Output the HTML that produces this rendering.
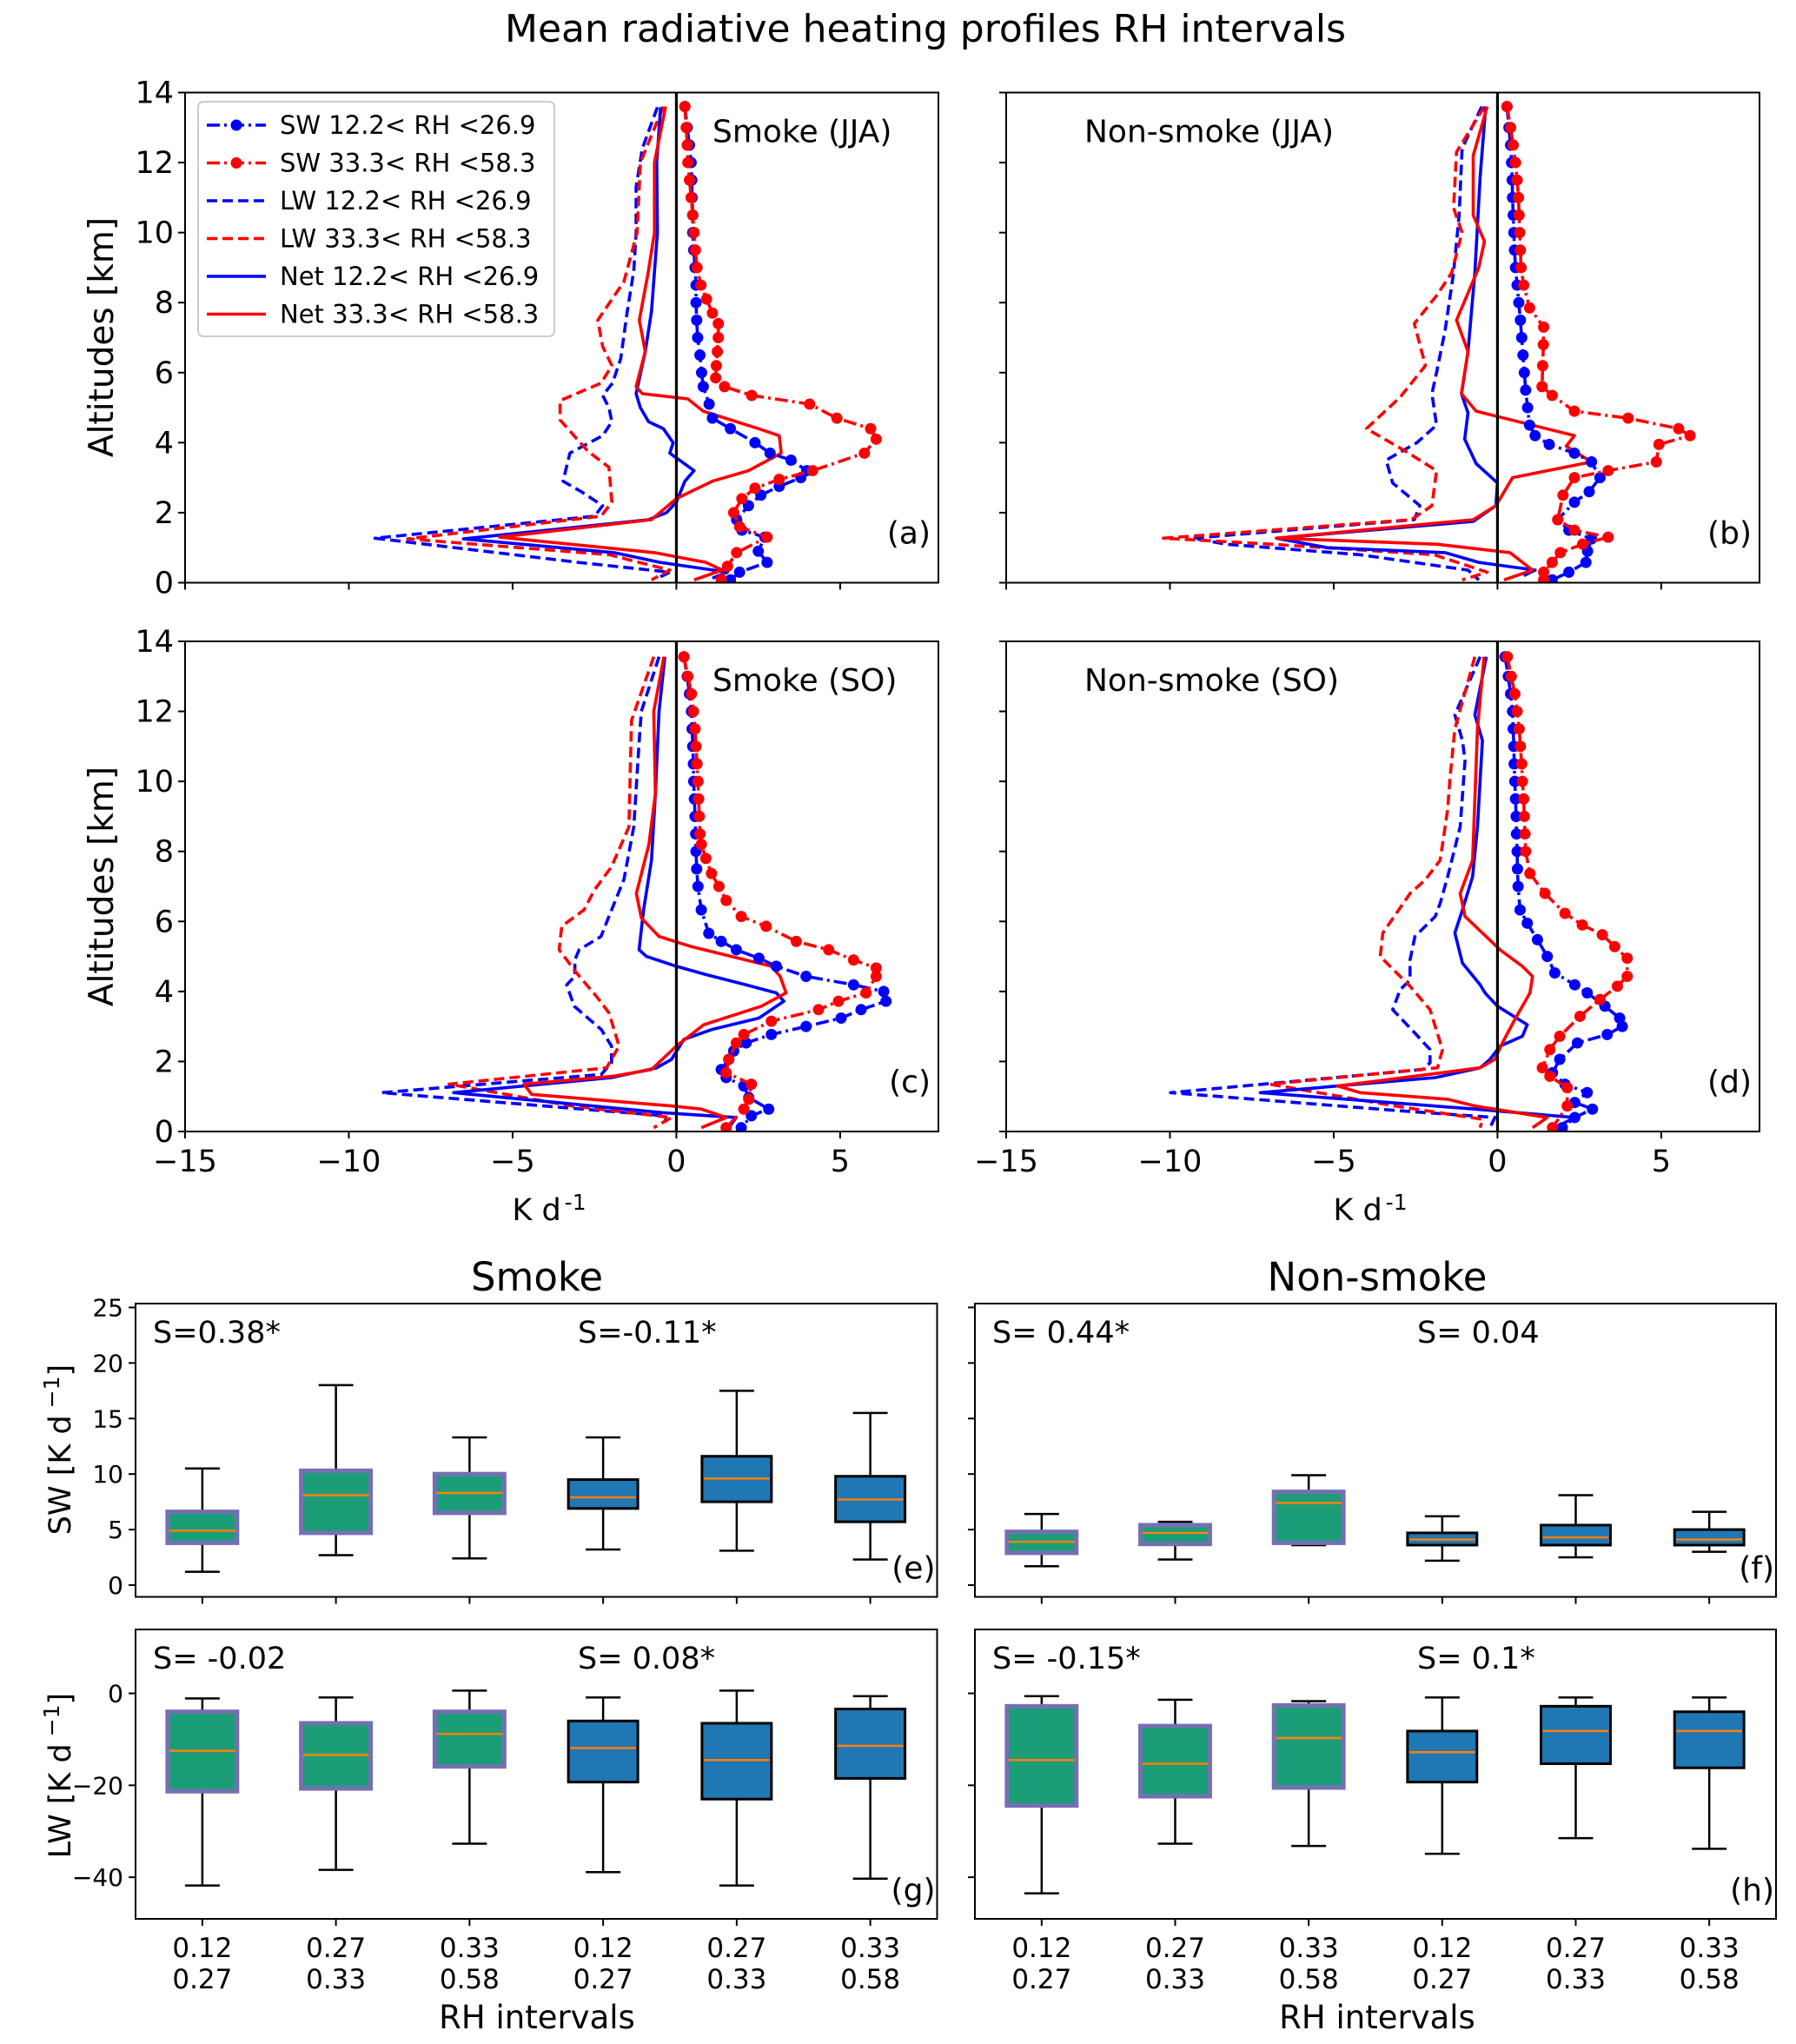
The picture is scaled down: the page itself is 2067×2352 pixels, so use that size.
<!DOCTYPE html>
<html><head><meta charset="utf-8"><title>Mean radiative heating profiles RH intervals</title>
<style>
html,body{margin:0;padding:0;background:#fff;}
svg{display:block;font-family:"DejaVu Sans","Liberation Sans",sans-serif;}
</style></head>
<body>
<svg id="fig" xmlns="http://www.w3.org/2000/svg" width="2067" height="2352" viewBox="0 0 2067 2352">
<rect x="0" y="0" width="2067" height="2352" fill="#fff"/>
<text x="1065" y="48" font-size="44" text-anchor="middle">Mean radiative heating profiles RH intervals</text>
</svg>
<script>
// ---------- Profile data (altitude km, heating K/d) ----------
// Panel a: Smoke (JJA)
const aSW12z=[13.6,13,12.5,12,11.5,11,10.5,10,9.5,9,8.5,8,7.5,7,6.5,6,5.6,5.1,4.7,4.4,4.0,3.7,3.5,3.2,3.0,2.75,2.5,2.2,1.8,1.5,1.3,0.9,0.58,0.3,0.08];
const aSW12x=[0.26,0.33,0.4,0.45,0.47,0.48,0.5,0.5,0.53,0.57,0.6,0.6,0.62,0.65,0.72,0.77,0.82,1.0,1.1,1.65,2.4,2.86,3.5,3.98,3.8,3.14,2.58,2.2,1.84,2.0,2.7,2.5,2.77,1.93,1.65];
const aSW33z=[13.6,13,12.5,12,11.5,11,10.5,10,9.5,9,8.5,8.1,7.7,7.4,7,6.6,6.2,5.85,5.6,5.35,5.1,4.7,4.4,4.1,3.7,3.2,2.95,2.7,2.4,2.0,1.6,1.3,0.86,0.47,0.08];
const aSW33x=[0.26,0.3,0.33,0.35,0.4,0.45,0.5,0.54,0.58,0.63,0.75,0.92,1.1,1.28,1.28,1.25,1.22,1.2,1.47,2.3,4.07,4.9,5.93,6.1,5.74,4.16,3.14,2.4,2.0,1.75,1.93,2.77,1.84,1.56,1.37];
const aLW12z=[13.58,12.4,11.3,10,8.9,7.75,6.4,5.7,5.35,5.0,4.6,4.2,3.7,2.9,2.6,2.2,1.9,1.27,0.97,0.58,0.3,0.13];
const aLW12x=[-0.58,-1.04,-1.23,-1.23,-1.3,-1.5,-1.7,-1.95,-2.25,-2.06,-1.97,-2.25,-3.25,-3.46,-2.9,-2.25,-2.5,-9.2,-6.5,-3,-0.2,-0.58];
const aLW33z=[13.6,12,10,8.6,7.5,6.75,6.2,5.7,5.2,4.65,3.75,3.3,2.3,1.9,1.25,0.8,0.36,0.08];
const aLW33x=[-0.4,-1.1,-1.2,-1.6,-2.4,-2.25,-1.97,-2.3,-3.55,-3.55,-2.7,-2.06,-1.97,-2.3,-8.2,-2.06,-0.2,-0.76];
const aNet12z=[13.58,12,10,7.75,6.6,5.4,5,4.6,4.4,4.0,3.7,3.2,2.9,2.3,2.0,1.8,1.25,0.86,0.58,0.3,0.13];
const aNet12x=[-0.48,-0.6,-0.58,-0.76,-0.95,-1.23,-1.1,-0.85,-0.4,-0.1,-0.2,0.54,0.26,0,-0.3,-0.85,-6.5,-1.9,-0.5,1.56,1.1];
const aNet33z=[13.6,12,10,8.86,7.5,6.6,5.6,5.4,5.25,4.9,4.4,4.2,3.7,3.2,2.9,2.4,1.8,1.3,0.86,0.58,0.36,0.08];
const aNet33x=[-0.33,-0.67,-0.67,-0.86,-1.13,-0.95,-1.23,-1.04,0.35,0.82,2.5,3.14,3.2,2.2,1.1,0,-0.76,-5.4,-0.67,0.9,1.4,0.54];
// Panel b: Non-smoke (JJA)
const bSW12z=[13.6,13,12.5,12,11.5,11,10.5,10,9.5,9,8.5,8,7.5,7,6.5,6,5.5,5,4.5,4.2,3.95,3.7,3.45,3.0,2.6,2.3,1.8,1.5,1.25,0.9,0.58,0.3,0.08];
const bSW12x=[0.29,0.35,0.4,0.43,0.45,0.46,0.48,0.5,0.52,0.55,0.6,0.65,0.7,0.74,0.78,0.82,0.86,0.92,0.98,1.15,1.58,2.35,2.87,3.13,2.8,2.35,1.84,2.18,2.87,2.75,2.7,2.18,1.67];
const bSW33z=[13.6,13,12.5,12,11.5,11,10.5,10,9.5,9,8.5,7.85,7.3,6.8,6.2,5.6,5.35,4.9,4.7,4.4,4.2,3.95,3.45,3.2,3.0,2.5,1.8,1.5,1.3,1.1,0.86,0.58,0.3,0.08];
const bSW33x=[0.29,0.4,0.48,0.55,0.6,0.64,0.66,0.68,0.7,0.72,0.8,0.98,1.41,1.4,1.38,1.36,1.67,2.35,3.99,5.53,5.88,4.93,4.85,3.38,2.35,2.0,1.84,2.35,3.38,2.6,1.92,1.67,1.41,1.41];
const bLW12z=[13.6,12.4,10.5,8.85,7.2,6.0,5.4,4.5,4.0,3.5,2.85,2.2,1.8,1.27,1.1,0.8,0.36,0.08];
const bLW12x=[-0.48,-1.08,-1.17,-1.34,-1.6,-1.86,-2.0,-1.86,-2.46,-3.4,-3.2,-2.37,-2.54,-9.3,-8.3,-4.2,-0.9,-0.57];
const bLW33z=[13.6,12.3,10.7,10,8.85,8.2,7.4,6.2,5.3,4.4,3.75,3.2,2.2,1.8,1.27,1.1,0.8,0.3,0.08];
const bLW33x=[-0.4,-1.25,-1.34,-1.08,-1.4,-1.86,-2.54,-2.2,-2.97,-4.0,-2.8,-1.86,-2.0,-2.63,-10.2,-6.9,-1.94,-0.31,-1.08];
const bNet12z=[13.6,11.6,8.85,6.6,5.4,4.85,4.1,3.4,2.85,2.2,1.75,1.27,1.0,0.86,0.58,0.36,0.2];
const bNet12x=[-0.36,-0.53,-0.69,-0.9,-1.1,-0.9,-1.0,-0.65,0,-0.05,-0.74,-6.75,-5.2,-1.6,-0.57,1.15,0.8];
const bNet33z=[13.6,12.2,10.5,9.75,9.0,7.5,6.6,5.4,4.9,4.2,3.9,3.45,3.0,2.2,1.8,1.27,1.1,0.86,0.36,0.08];
const bNet33x=[-0.31,-0.74,-0.74,-0.4,-0.57,-1.25,-0.9,-1.1,-0.65,2.35,2.1,2.87,0.46,-0.05,-0.74,-6.75,-1.86,0.38,1.07,0.2];
// Panel c: Smoke (SO)
const cSW12z=[13.56,13,12.5,12,11.5,11,10.5,10,9.5,9,8.5,8,7.5,7,6.33,5.66,5.43,5.19,4.95,4.72,4.43,4.19,4.0,3.72,3.48,3.24,3.0,2.77,2.53,2.3,2.06,1.77,1.54,1.3,0.97,0.64,0.45,0.11];
const cSW12x=[0.23,0.33,0.4,0.46,0.48,0.5,0.52,0.53,0.55,0.57,0.59,0.6,0.62,0.66,0.76,0.99,1.37,1.83,2.52,3.05,3.96,5.41,6.33,6.4,5.64,5.03,3.96,2.9,2.13,1.75,1.6,1.37,1.52,2.06,2.21,2.82,2.29,1.98];
const cSW33z=[13.56,13,12.5,12,11.5,11,10.5,10,9.5,9,8.5,8.2,7.8,7.37,7,6.6,6.14,5.86,5.43,5.19,4.9,4.67,4.43,3.96,3.72,3.48,3.15,2.77,2.53,2.06,1.68,1.35,0.92,0.64,0.11];
const cSW33x=[0.23,0.35,0.46,0.52,0.57,0.6,0.63,0.66,0.68,0.7,0.72,0.76,0.9,1.07,1.3,1.52,1.98,2.74,3.66,4.65,5.41,6.1,6.1,5.79,4.95,4.34,2.9,2.06,1.83,1.6,1.52,2.29,2.21,2.06,1.52];
const cLW12z=[13.56,12,11.1,8.7,7.2,6.14,5.57,5.19,4.9,4.43,4.19,3.58,2.91,2.44,1.96,1.63,1.11,0.45,0.26];
const cLW12x=[-0.53,-1.07,-1.14,-1.3,-1.6,-2.06,-2.3,-2.97,-3.1,-3.1,-3.35,-3.12,-2.29,-1.98,-1.98,-2.29,-9.0,-0.38,-0.3];
const cLW33z=[13.56,11.74,8.7,7.56,6.9,6.33,5.86,5.19,4.53,3.86,3.39,2.44,1.82,1.35,0.73,0.4,0.11];
const cLW33x=[-0.69,-1.37,-1.45,-1.98,-2.5,-2.82,-3.5,-3.58,-3.05,-2.44,-2.06,-1.75,-2.13,-6.94,-3.2,-0.15,-0.69];
const cNet12z=[13.56,12.0,9.65,7.75,6.33,5.19,5.0,4.72,4.48,4.19,3.96,3.72,3.24,2.91,2.63,2.06,1.82,1.54,1.11,0.54,0.4,0.11];
const cNet12x=[-0.35,-0.53,-0.64,-0.76,-1.0,-1.14,-0.91,0,0.91,2.13,3.05,3.28,2.52,1.07,0.23,-0.15,-0.6,-1.98,-6.8,-0.46,1.83,1.6];
const cNet33z=[13.56,12,9.65,8.2,6.8,6.1,5.57,5.28,4.72,4.43,3.96,3.58,3.05,2.44,1.77,1.58,1.35,1.06,0.73,0.64,0.4,0.11];
const cNet33x=[-0.38,-0.69,-0.64,-0.84,-1.22,-1.07,-0.53,0.46,2.9,3.17,3.35,2.6,0.84,0,-0.76,-1.9,-4.65,-4.42,-0.15,0.76,1.52,0.76];
// Panel d: Non-smoke (SO)
const dSW12z=[13.56,13,12.5,12,11.5,11,10.5,10,9.5,9,8.5,8,7.5,7,6.33,5.95,5.48,5.0,4.53,4.19,3.96,3.58,3.24,3.0,2.77,2.53,2.06,1.68,1.35,1.11,0.83,0.64,0.4,0.11];
const dSW12x=[0.23,0.33,0.4,0.46,0.48,0.5,0.51,0.53,0.55,0.57,0.58,0.6,0.61,0.63,0.69,0.91,1.22,1.52,1.75,2.36,2.74,3.28,3.73,3.81,3.35,2.44,1.9,1.68,2.06,2.74,2.36,2.9,2.36,1.98];
const dSW33z=[13.56,13,12.5,12,11.5,11,10.5,10,9.5,9,8.5,8,7.37,6.8,6.23,5.9,5.62,5.28,4.95,4.43,4.15,3.77,3.29,2.72,2.34,1.82,1.58,1.25,0.73,0.11];
const dSW33x=[0.3,0.42,0.53,0.6,0.66,0.7,0.74,0.76,0.8,0.82,0.84,0.86,0.99,1.45,2.06,2.59,3.2,3.58,3.96,3.96,3.66,3.13,2.52,1.9,1.6,1.37,1.6,2.13,2.13,1.68];
const dLW12z=[13.56,11.9,11.17,10.6,8.7,7.28,6.52,6.14,5.57,4.9,4.33,4.05,3.48,2.81,2.34,1.96,1.77,1.11,0.59,0.4,0.11];
const dLW12x=[-0.53,-1.3,-1.07,-0.99,-1.14,-1.52,-1.75,-1.9,-2.52,-2.67,-2.67,-2.97,-3.2,-2.52,-2.06,-2.06,-2.29,-9.98,-2.97,-0.08,-0.23];
const dLW33z=[13.56,11.5,10.1,9.2,7.75,7.18,6.8,5.67,5.0,4.72,4.15,3.48,2.34,1.82,1.35,0.73,0.35,0.11];
const dLW33x=[-0.69,-1.3,-1.45,-1.52,-1.75,-2.21,-2.67,-3.5,-3.58,-3.28,-2.67,-2.06,-1.68,-1.83,-6.94,-3.13,-0.46,-0.53];
const dNet12z=[13.56,11.9,11.17,8.7,7.28,6.33,5.67,4.81,4.19,3.96,3.58,3.05,2.72,2.44,2.06,1.82,1.54,1.11,0.64,0.4,0.11];
const dNet12x=[-0.34,-0.69,-0.46,-0.61,-0.76,-1.07,-1.3,-1.07,-0.53,-0.38,0,0.91,0.76,0.08,-0.23,-0.53,-1.9,-7.24,-0.69,2.36,1.75];
const dNet33z=[13.56,11.5,7.75,6.8,6.14,5.67,5.19,4.72,4.43,3.96,3.2,2.53,2.06,1.82,1.3,1.11,0.92,0.73,0.4,0.11];
const dNet33x=[-0.41,-0.61,-0.76,-1.14,-0.99,-0.46,0.08,0.76,1.07,0.99,0.53,0.15,-0.08,-0.53,-4.88,-4.19,-1.52,-0.69,1.52,1.07];

// ---------- Box data (K/d) ----------
const boxCats1=["0.12","0.27","0.33","0.12","0.27","0.33"];
const boxCats2=["0.27","0.33","0.58","0.27","0.33","0.58"];
const eLo=[1.2,2.7,2.4,3.2,3.1,2.3], eQ1=[3.8,4.7,6.5,6.9,7.5,5.7], eMed=[4.9,8.1,8.3,7.9,9.6,7.7], eQ3=[6.6,10.3,10.0,9.5,11.6,9.8], eHi=[10.5,18.0,13.3,13.3,17.5,15.5];
const fLo=[1.7,2.3,3.6,2.2,2.5,3.0], fQ1=[2.9,3.7,3.8,3.6,3.6,3.6], fMed=[3.9,4.7,7.4,4.1,4.3,4.1], fQ3=[4.8,5.4,8.4,4.7,5.4,5.0], fHi=[6.4,5.7,9.9,6.2,8.1,6.6];
const gLo=[-41.8,-38.4,-32.7,-38.9,-41.8,-40.3], gQ1=[-21.3,-20.7,-15.9,-19.3,-23.0,-18.5], gMed=[-12.5,-13.4,-8.8,-11.9,-14.5,-11.4], gQ3=[-4.0,-6.5,-4.0,-6.0,-6.5,-3.4], gHi=[-1.1,-0.9,0.6,-0.9,0.6,-0.6];
const hLo=[-43.5,-32.7,-33.2,-34.9,-31.5,-33.8], hQ1=[-24.4,-22.4,-20.5,-19.3,-15.3,-16.2], hMed=[-14.5,-15.3,-9.7,-12.8,-8.2,-8.2], hQ3=[-2.8,-7.1,-2.6,-8.2,-2.8,-4.0], hHi=[-0.6,-1.4,-1.7,-0.9,-0.9,-0.9];
const swTicks=[0,5,10,15,20,25];
const lwTicks=[0,-20,-40];
const profXTicks=[-15,-10,-5,0,5];
const profYTicks=[0,2,4,6,8,10,12,14];

const NS="http://www.w3.org/2000/svg";
const svg=document.getElementById('fig');
function mk(tag,attrs,parent){const e=document.createElementNS(NS,tag);for(const k in attrs)e.setAttribute(k,attrs[k]);(parent||svg).appendChild(e);return e;}
function fmt(v){return v<0?'\u2212'+Math.abs(v):String(v);}

// ---------- Profile panels ----------
const BLUE='#0000ff', RED='#ff0000';
function profilePanel(id,L,R,T,B,showY,showX,label,txt,txtX,series){
  const sx=v=>L+(v-(-15))/(8-(-15))*(R-L);
  const sy=v=>B-(v-0)/(14-0)*(B-T);
  const g=mk('g',{});
  
  
  const cp=mk('clipPath',{id:'cp'+id},g);mk('rect',{x:L,y:T,width:R-L,height:B-T},cp);
  const plot=mk('g',{'clip-path':'url(#cp'+id+')'},g);
  series.forEach(s=>{
    const pts=s.z.map((z,i)=>sx(s.x[i]).toFixed(1)+','+sy(z).toFixed(1)).join(' ');
    const pl=mk('polyline',{points:pts,fill:'none',stroke:s.c,'stroke-width':3.6,'stroke-linejoin':'round'},plot);
    if(s.d)pl.setAttribute('stroke-dasharray',s.d);
    
    
    if(s.m){s.z.forEach((z,i)=>{const c=mk('circle',{cx:sx(s.x[i]),cy:sy(z),r:6.5,fill:s.c},plot);
      
      });}
  });
  const zl=mk('line',{x1:sx(0),x2:sx(0),y1:T,y2:B,stroke:'#000','stroke-width':3.2},g);
  
  
  const fr=mk('rect',{x:L,y:T,width:R-L,height:B-T,fill:'none',stroke:'#000','stroke-width':2},g);
  
  
  profYTicks.forEach(t=>{mk('line',{x1:L-8,x2:L,y1:sy(t),y2:sy(t),stroke:'#000','stroke-width':2},g);
    if(showY){const tt=mk('text',{x:L-13,y:sy(t)+12,'font-size':35,'text-anchor':'end'},g);tt.textContent=t;
      
      }});
  profXTicks.forEach(t=>{mk('line',{x1:sx(t),x2:sx(t),y1:B,y2:B+8,stroke:'#000','stroke-width':2},g);
    if(showX){const tt=mk('text',{x:sx(t),y:B+46,'font-size':35,'text-anchor':'middle'},g);tt.textContent=fmt(t);
      
      }});
  const pt=mk('text',{x:txtX,y:T+57,'font-size':36},g);pt.textContent=txt;
  
  
  const pl=mk('text',{x:R-9,y:B-45,'font-size':36,'text-anchor':'end'},g);pl.textContent=label;
  
  
  return {sx,sy};
}
function ser(p,sw12z,sw12x,sw33z,sw33x,lw12z,lw12x,lw33z,lw33x,n12z,n12x,n33z,n33x){
  return [
    {z:lw12z,x:lw12x,c:BLUE,d:'12,6',n:p+'-lw-low-rh'},
    {z:lw33z,x:lw33x,c:RED,d:'12,6',n:p+'-lw-high-rh'},
    {z:n12z,x:n12x,c:BLUE,n:p+'-net-low-rh'},
    {z:n33z,x:n33x,c:RED,n:p+'-net-high-rh'},
    {z:sw12z,x:sw12x,c:BLUE,d:'15,5,3,5',m:1,n:p+'-sw-low-rh'},
    {z:sw33z,x:sw33x,c:RED,d:'15,5,3,5',m:1,n:p+'-sw-high-rh'}];
}
profilePanel('a',213,1080,106.5,670.5,true,false,'(a)','Smoke (JJA)',820,ser('a',aSW12z,aSW12x,aSW33z,aSW33x,aLW12z,aLW12x,aLW33z,aLW33x,aNet12z,aNet12x,aNet33z,aNet33x));
profilePanel('b',1158,2025,106.5,670.5,false,false,'(b)','Non-smoke (JJA)',1248,ser('b',bSW12z,bSW12x,bSW33z,bSW33x,bLW12z,bLW12x,bLW33z,bLW33x,bNet12z,bNet12x,bNet33z,bNet33x));
profilePanel('c',213,1080,738,1302,true,true,'(c)','Smoke (SO)',820,ser('c',cSW12z,cSW12x,cSW33z,cSW33x,cLW12z,cLW12x,cLW33z,cLW33x,cNet12z,cNet12x,cNet33z,cNet33x));
profilePanel('d',1158,2025,738,1302,false,true,'(d)','Non-smoke (SO)',1248,ser('d',dSW12z,dSW12x,dSW33z,dSW33x,dLW12z,dLW12x,dLW33z,dLW33x,dNet12z,dNet12x,dNet33z,dNet33x));

// axis labels
function txt(x,y,s,size,name,extra){const t=mk('text',Object.assign({x:x,y:y,'font-size':size,'text-anchor':'middle'},extra||{}));t.textContent=s;
  
  return t;}
txt(117,388,'Altitudes [km]',39,'y-axis-title-a',{transform:'rotate(-90 117 388)',dy:'13'});
txt(117,1020,'Altitudes [km]',39,'y-axis-title-c',{transform:'rotate(-90 117 1020)',dy:'13'});
[642,1587].forEach((cx,i)=>{const t=mk('text',{x:cx-10,y:1404,'font-size':35,'text-anchor':'middle'});
  
  
  t.textContent='K d';const s=mk('tspan',{dy:'-12','font-size':25,dx:'4'},t);s.textContent='-1';});

// legend
const lg=mk('g',{});


mk('rect',{x:228,y:117,width:410,height:270,rx:6,fill:'#fff','fill-opacity':0.85,stroke:'#cccccc','stroke-width':2},lg);
const legItems=[['SW 12.2< RH <26.9',BLUE,'15,5,3,5',1],['SW 33.3< RH <58.3',RED,'15,5,3,5',1],['LW 12.2< RH <26.9',BLUE,'12,6',0],['LW 33.3< RH <58.3',RED,'12,6',0],['Net 12.2< RH <26.9',BLUE,null,0],['Net 33.3< RH <58.3',RED,null,0]];
legItems.forEach((it,i)=>{const y=144+i*43.5;
  const ln=mk('line',{x1:238,x2:306,y1:y,y2:y,stroke:it[1],'stroke-width':3.6},lg);if(it[2])ln.setAttribute('stroke-dasharray',it[2]);
  if(it[3])mk('circle',{cx:272,cy:y,r:6.5,fill:it[1]},lg);
  const t=mk('text',{x:322,y:y+10,'font-size':29},lg);t.textContent=it[0];
  
  });

// ---------- Box panels ----------
function boxPanel(id,L,R,T,B,ymin,ymax,ticks,showY,showX,lo,q1,med,q3,hi,s1,s2,lab){
  const sx=v=>L+(v-0.5)/6*(R-L);
  const sy=v=>B-(v-ymin)/(ymax-ymin)*(B-T);
  const g=mk('g',{});
  
  
  const fr=mk('rect',{x:L,y:T,width:R-L,height:B-T,fill:'none',stroke:'#000','stroke-width':2},g);
  ticks.forEach(t=>{mk('line',{x1:L-8,x2:L,y1:sy(t),y2:sy(t),stroke:'#000','stroke-width':2},g);
    if(showY){const tt=mk('text',{x:L-14,y:sy(t)+10,'font-size':28,'text-anchor':'end'},g);tt.textContent=fmt(t);
      
      }});
  lo.forEach((v,i)=>{const cx=sx(i+1),bw=(R-L)/6*0.52,cw=bw/2;
    mk('line',{x1:cx,x2:cx,y1:sy(hi[i]),y2:sy(q3[i]),stroke:'#000','stroke-width':2.5},g);
    mk('line',{x1:cx,x2:cx,y1:sy(q1[i]),y2:sy(lo[i]),stroke:'#000','stroke-width':2.5},g);
    mk('line',{x1:cx-cw/2,x2:cx+cw/2,y1:sy(hi[i]),y2:sy(hi[i]),stroke:'#000','stroke-width':2.5},g);
    mk('line',{x1:cx-cw/2,x2:cx+cw/2,y1:sy(lo[i]),y2:sy(lo[i]),stroke:'#000','stroke-width':2.5},g);
    const green=i<3;
    const r=mk('rect',{x:cx-bw/2,y:sy(q3[i]),width:bw,height:sy(q1[i])-sy(q3[i]),fill:green?'#1b9e77':'#1f77b4',stroke:green?'#7570b3':'#000','stroke-width':green?5:3},g);
    
    
    mk('line',{x1:cx-bw/2+2,x2:cx+bw/2-2,y1:sy(med[i]),y2:sy(med[i]),stroke:'#ff7f0e','stroke-width':2.5},g);
    mk('line',{x1:cx,x2:cx,y1:B,y2:B+8,stroke:'#000','stroke-width':2},g);
    if(showX){const t1=mk('text',{x:cx,y:B+44,'font-size':31,'text-anchor':'middle'},g);t1.textContent=boxCats1[i];
      
      
      const t2=mk('text',{x:cx,y:B+80,'font-size':31,'text-anchor':'middle'},g);t2.textContent=boxCats2[i];
      
      }
  });
  const a1=mk('text',{x:L+20,y:T+45,'font-size':35},g);a1.textContent=s1;
  
  
  const a2=mk('text',{x:L+509,y:T+45,'font-size':35},g);a2.textContent=s2;
  
  
  const pl=mk('text',{x:R-2,y:B-21,'font-size':36,'text-anchor':'end'},g);pl.textContent=lab;
  
  
}
boxPanel('e',156,1078.5,1500,1837.5,-1.06,25.35,swTicks,true,false,eLo,eQ1,eMed,eQ3,eHi,'S=0.38*','S=-0.11*','(e)');
boxPanel('f',1122,2044,1500,1837.5,-1.06,25.35,swTicks,false,false,fLo,fQ1,fMed,fQ3,fHi,'S= 0.44*','S= 0.04','(f)');
boxPanel('g',156,1078.5,1875,2208,-49.05,13.9,lwTicks,true,true,gLo,gQ1,gMed,gQ3,gHi,'S= -0.02','S= 0.08*','(g)');
boxPanel('h',1122,2044,1875,2208,-49.05,13.9,lwTicks,false,true,hLo,hQ1,hMed,hQ3,hHi,'S= -0.15*','S= 0.1*','(h)');

txt(618,1485,'Smoke',45,'title-smoke');
txt(1585,1485,'Non-smoke',45,'title-non-smoke');
txt(618,2334,'RH intervals',37,'x-axis-title-smoke');
txt(1585,2334,'RH intervals',37,'x-axis-title-non-smoke');
[[1668,'SW'],[2043,'LW']].forEach(([cy,s])=>{const t=mk('text',{x:69,y:cy,'font-size':35,'text-anchor':'middle',transform:'rotate(-90 69 '+cy+')',dy:'12'});
  
  
  t.textContent=s+' [K d';const sp=mk('tspan',{dy:'-13','font-size':25},t);sp.textContent=' \u22121';const sp2=mk('tspan',{dy:'13'},t);sp2.textContent=']';});
</script>
</body></html>
